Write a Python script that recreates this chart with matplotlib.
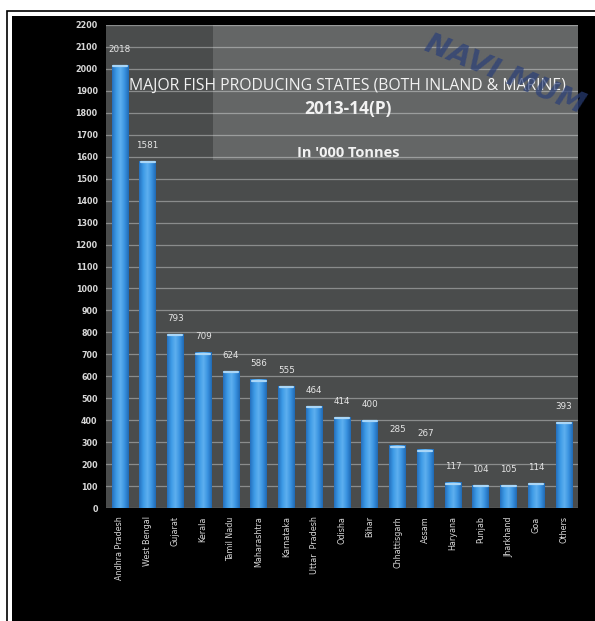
import numpy as np
import matplotlib.pyplot as plt
import matplotlib.patches as patches
from matplotlib.colors import LinearSegmentedColormap

states = ["Andhra Pradesh", "West Bengal", "Gujarat", "Kerala", "Tamil Nadu",
          "Maharashtra", "Karnataka", "Uttar  Pradesh", "Odisha", "Bihar",
          "Chhattisgarh", "Assam", "Haryana", "Punjab", "Jharkhand", "Goa", "Others"]
production = [2018, 1581, 793, 709, 624, 586, 555, 464, 414, 400,
              285, 267, 117, 104, 105, 114, 393]
yticks = list(range(0, 2201, 100))

W, H = 595, 621
fig = plt.figure(figsize=(W / 100, H / 100), dpi=100, facecolor="white")

# black slide background with thin frame
fig.patches.append(patches.Rectangle((12 / W, 0), 1, (H - 16) / H, transform=fig.transFigure,
                                     facecolor="black", edgecolor="none", zorder=-2))
fig.patches.append(patches.Rectangle((7 / W, -0.1), 1, (H - 11) / H + 0.1, transform=fig.transFigure,
                                     facecolor="none", edgecolor="black", lw=1.2, zorder=-2))

ax = fig.add_axes([106 / W, (H - 508) / H, (578 - 106) / W, (508 - 25) / H])
ax.set_facecolor("#4a4c4c")

x = np.arange(len(states))
bars = ax.bar(x, production, width=0.6, color="#2f86d6", zorder=3)

# cylinder-like shading on each bar
cmap = LinearSegmentedColormap.from_list("cyl", ["#2470bd", "#3d9ae6", "#5eb0ef", "#3a93e0", "#206ab5"])
grad = np.linspace(0, 1, 64).reshape(1, -1)
for b in bars:
    bx, bw, bh = b.get_x(), b.get_width(), b.get_height()
    im = ax.imshow(grad, extent=[bx, bx + bw, 0, bh], aspect="auto", cmap=cmap, zorder=3.5)
    im.set_clip_path(b)
    ax.plot([bx + 0.05, bx + bw - 0.05], [bh - 6, bh - 6], color="#a9d6f7", lw=1.6,
            solid_capstyle="round", zorder=4)

for xi, v in zip(x, production):
    ax.annotate(str(v), (xi, v), xytext=(0, 8), textcoords="offset points",
                ha="center", va="bottom", color="#e6e6e6", fontsize=6.3, family="DejaVu Sans")

ax.set_xlim(-0.5, len(states) - 0.5)
ax.set_ylim(0, 2200)
ax.set_yticks(yticks)
ax.set_yticklabels([str(t) for t in yticks], color="#d8d8d8", fontsize=5.8, fontweight="bold")
ax.set_xticks(x)
ax.set_xticklabels(states, rotation=90, color="#d8d8d8", fontsize=5.8)
ax.tick_params(length=0, pad=6)
ax.grid(axis="y", color="#8a8c8c", lw=0.9, zorder=1)
for s in ax.spines.values():
    s.set_visible(False)

# lighter title panel
fig.patches.append(patches.Rectangle((213 / W, (H - 160) / H), (578 - 213) / W, 135 / H,
                                     transform=fig.transFigure, facecolor="white", alpha=0.15,
                                     edgecolor="none", zorder=5))

fig.text(347 / W, 1 - 86 / H, "MAJOR FISH PRODUCING STATES (BOTH INLAND & MARINE)",
         ha="center", va="center", color="#f2f2f2", fontsize=11.3, family="Open Sans",
         zorder=6)
fig.text(348 / W, 1 - 109 / H, "2013-14(P)", ha="center", va="center", color="#f2f2f2",
         fontsize=12.5, family="Open Sans", fontweight="bold", zorder=6)
fig.text(348 / W, 1 - 153 / H, "In '000 Tonnes", ha="center", va="center", color="#f2f2f2",
         fontsize=10.5, family="Open Sans", fontweight="bold", zorder=6)

# faint watermark
fig.text(505 / W, 1 - 74 / H, "NAVI MUM", ha="center", va="center", color="#2a3f78", alpha=0.7,
         fontsize=21, fontweight="bold", style="italic", rotation=-22, family="DejaVu Sans", zorder=7)

fig.savefig("out.png", dpi=100, facecolor="white")
